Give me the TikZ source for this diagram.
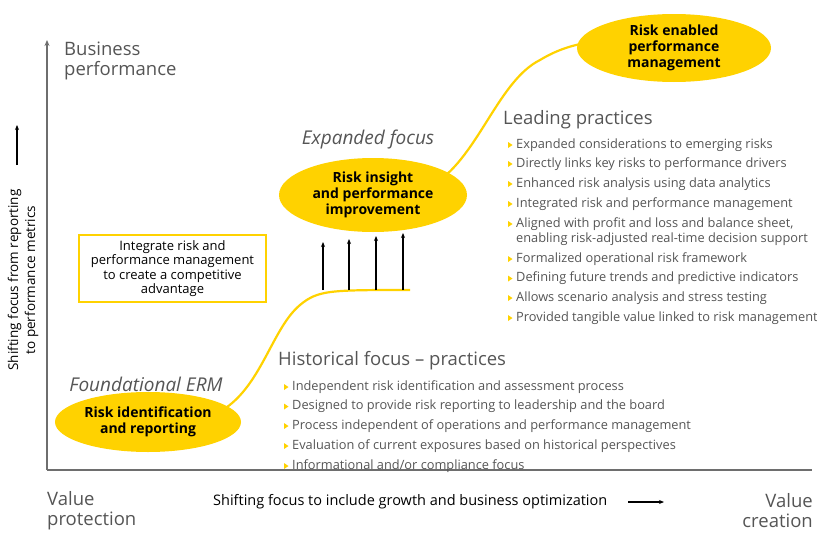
\documentclass[tikz,border=0pt]{standalone}
\usepackage{fontspec}
\setmainfont{Open Sans}
\usetikzlibrary{arrows.meta,shapes.geometric}
\definecolor{eyy}{HTML}{FFD200}
\definecolor{gtx}{HTML}{555555}
\definecolor{axc}{HTML}{6E6E6E}
\tikzset{
  oval/.style={ellipse,fill=eyy,align=center,font=\bfseries\fontsize{14}{16}\selectfont,inner sep=0pt},
  big/.style={text=gtx,font=\fontsize{18.5}{20}\selectfont,align=left,anchor=west,inner sep=0pt},
  ital/.style={text=gtx,font=\itshape\fontsize{19}{21}\selectfont,inner sep=0pt},
  item/.style={text=gtx,font=\fontsize{12.8}{15}\selectfont,anchor=west,inner sep=0pt,align=left},
  curve/.style={draw=eyy,line width=2.2pt},
  up/.style={-{Stealth[length=5pt,width=4pt]},line width=1.2pt}
}
\newcommand{\bul}[2]{\fill[eyy] (#1-8,#2-3) -- (#1-3.5,#2) -- (#1-8,#2+3) -- cycle;}
\begin{document}
\begin{tikzpicture}[x=1pt,y=-1pt]
\useasboundingbox (0,0) rectangle (817,541);
% axes
\coordinate (o) at (47,470);
\coordinate (ytop) at (47,40);
\coordinate (xend) at (812,470);
\draw[axc,line width=1.4pt,-{Stealth[length=6pt,width=5pt]}] (o) -- (ytop);
\draw[axc,line width=1.4pt] (o) -- (xend);
% curve
\draw[curve] (213,415) .. controls (260,395) and (270,330) .. (300,305) .. controls (318,290) and (330,290) .. (410,290);
\draw[curve] (440,180) .. controls (480,150) and (500,80) .. (540,60) .. controls (560,48) and (575,45) .. (590,42);
% ovals
\node[oval,minimum width=186pt,minimum height=60pt] (e1) at (148,422) {Risk identification\\and reporting};
\node[oval,minimum width=188pt,minimum height=74pt] (e2) at (373,195) {Risk insight\\and performance\\improvement};
\node[oval,minimum width=194pt,minimum height=68pt] (e3) at (674,48) {Risk enabled\\performance\\management};
% arrows
\foreach \x/\t in {323/242,349/239,376/236,403/233}{
  \coordinate (b\x) at (\x,290); \coordinate (t\x) at (\x,\t);
  \draw[up] (b\x) -- (t\x);}
% box
\node[draw=eyy,line width=1.3pt,minimum width=187pt,minimum height=67pt,align=center,font=\fontsize{13}{14.5}\selectfont,inner sep=0pt] (box) at (172.5,268.5) {Integrate risk and\\performance management\\to create a competitive\\advantage};
% labels
\node[big] (bp) at (64,61) {Business\\performance};
\node[ital] (ef) at (368,140) {Expanded focus};
\node[ital] (fe) at (146,384) {Foundational ERM};
\node[big] (hf) at (278,361) {Historical focus – practices};
\node[big] (lp) at (503,120) {Leading practices};
\foreach \y/\t [count=\i] in {387/Independent risk identification and assessment process,
 406.5/Designed to provide risk reporting to leadership and the board,
 426/Process independent of operations and performance management,
 446/Evaluation of current exposures based on historical perspectives,
 466/{Informational and/or compliance focus}}{
 \node[item] (h\i) at (292,\y) {\t}; \bul{292}{\y}}
\foreach \y/\t [count=\i] in {145/Expanded considerations to emerging risks,
 164/Directly links key risks to performance drivers,
 184/Enhanced risk analysis using data analytics,
 204/Integrated risk and performance management}{
 \node[item] (l\i) at (516,\y) {\t}; \bul{516}{\y}}
\node[item] (l5) at (516,232) {Aligned with profit and loss and balance sheet,\\enabling risk-adjusted real-time decision support}; \bul{516}{224}
\foreach \y/\t [count=\i from 6] in {259/Formalized operational risk framework,
 278.5/Defining future trends and predictive indicators,
 298/Allows scenario analysis and stress testing,
 318/Provided tangible value linked to risk management}{
 \node[item] (l\i) at (516,\y) {\t}; \bul{516}{\y}}
% y label
\node[rotate=90,align=center,font=\fontsize{13.5}{17}\selectfont,inner sep=0pt] (yl) at (23,280) {Shifting focus from reporting\\to performance metrics};
\coordinate (ya) at (17,165); \coordinate (yb) at (17,125);
\draw[line width=1.2pt,-{Stealth[length=5pt,width=4pt]}] (ya) -- (yb);
% bottom
\node[big] (vp) at (47,511) {Value\\protection};
\node[big,anchor=east,align=right] (vc) at (813,511) {Value\\creation};
\node[font=\fontsize{14.5}{16}\selectfont,anchor=west,inner sep=0pt] (sx) at (213,502) {Shifting focus to include growth and business optimization};
\coordinate (sa) at (628,502); \coordinate (sb) at (664,502);
\draw[line width=1.2pt,-{Stealth[length=5pt,width=4pt]}] (sa) -- (sb);
\end{tikzpicture}
\end{document}
